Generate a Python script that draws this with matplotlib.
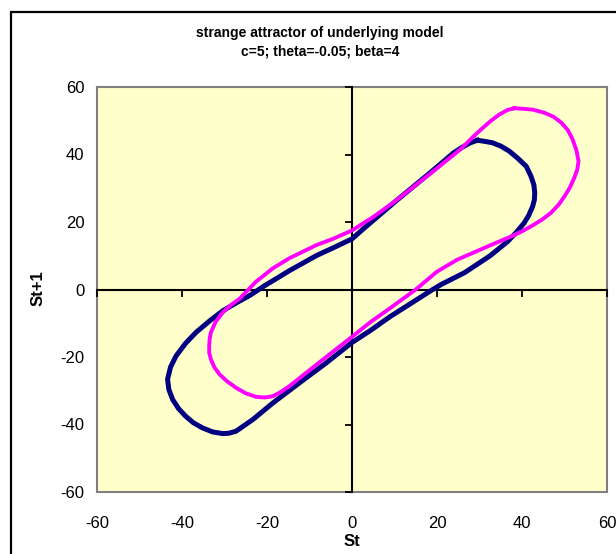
import numpy as np
import matplotlib.pyplot as plt

# attractor orbits, (St, St+1) pairs traced clockwise
navy_st = [29.5, 30.7, 33.0, 35.0, 37.0, 38.9, 41.0, 42.1, 42.8, 43.0, 42.9, 42.5, 41.6, 40.5, 38.7,
           36.6, 32.5, 26.5, 21.0, 19.0, 14.5, 9.0, 4.5, 0.0, -6.0, -12.3, -18.6, -23.3, -27.3,
           -29.0, -30.4, -32.8, -35.2, -37.3, -39.1, -40.8, -42.2, -43.1, -43.4, -42.7, -41.4,
           -39.2, -36.7, -33.5, -30.4, -27.0, -24.1, -20.6, -14.7, -8.3, -4.5, 0.0, 2.7, 10.6,
           18.4, 23.9, 26.0, 27.9]
navy_st1 = [44.2, 44.0, 43.5, 42.5, 41.0, 39.0, 36.5, 33.6, 31.0, 28.6, 26.5, 24.6, 22.0, 19.7, 17.0,
            14.2, 10.0, 5.0, 1.5, 0.0, -3.6, -8.0, -12.0, -15.7, -21.7, -27.6, -33.6, -38.5, -42.0,
            -42.6, -42.7, -42.2, -41.0, -39.5, -37.6, -35.3, -32.6, -29.6, -26.6, -23.0, -19.7,
            -16.0, -12.7, -9.3, -6.3, -3.8, -1.8, 1.1, 5.6, 10.1, 12.3, 15.0, 18.0, 26.5,
            34.6, 40.5, 42.2, 43.5]

pink_st = [38.2, 39.7, 42.5, 45.2, 47.4, 49.2, 50.8, 51.9, 52.8, 53.3, 53.0, 52.3, 51.3, 50.0, 48.6,
           46.8, 44.6, 42.1, 39.8, 37.4, 31.8, 24.7, 20.0, 15.0, 9.0, 4.5, 0.0, -8.3, -14.7, -16.8,
           -18.6, -20.5, -22.6, -25.1, -27.3, -29.4, -31.2, -32.4, -33.2, -33.6, -33.6, -33.5,
           -33.2, -32.1, -30.4, -28.6, -26.5, -22.6, -18.6, -14.7, -8.3, -4.5, 0.0, 5.0, 10.6,
           18.4, 25.5, 28.7, 30.7, 32.6, 34.6, 36.6]
pink_st1 = [53.7, 53.6, 53.3, 52.4, 51.2, 49.5, 47.2, 44.5, 41.3, 38.0, 35.5, 33.1, 30.3, 27.6, 25.1,
            22.7, 20.6, 18.7, 17.1, 15.7, 12.7, 8.8, 5.3, 0.0, -5.5, -9.5, -14.0, -22.2, -28.6, -30.4,
            -31.6, -32.0, -31.8, -30.7, -29.1, -27.2, -25.1, -23.0, -20.7, -18.7, -16.7, -14.7,
            -12.7, -9.6, -6.8, -4.7, -2.8, 2.3, 6.3, 9.3, 13.2, 15.0, 17.5, 21.5, 26.6,
            34.3, 41.5, 45.5, 47.8, 49.9, 51.8, 53.2]

ticks = [-60, -40, -20, 0, 20, 40, 60]

plt.rcParams['font.family'] = ['Liberation Sans', 'DejaVu Sans']
plt.rcParams['axes.unicode_minus'] = False

W, H = 616, 554
fig = plt.figure(figsize=(W / 100, H / 100), dpi=100)

# outer chart border (runs off the right and bottom edges)
fig.patches.append(plt.Rectangle((10.5 / W, -0.1), 1.2, 1 - 12 / H + 0.1, transform=fig.transFigure,
                                 fill=False, ec='black', lw=1.6))

pos = [97 / W, 1 - 492 / H, 510 / W, 405 / H]
ax = fig.add_axes(pos)
ax.set_facecolor('#FFFFCC')
for s in ax.spines.values():
    s.set_color('#808080')
    s.set_linewidth(1.5)
ax.set_xlim(-60, 60)
ax.set_ylim(-60, 60)
ax.set_xticks(ticks)
ax.set_yticks(ticks)
ax.tick_params(axis='both', length=0, labelsize=12)
ax.tick_params(axis='x', pad=17)
ax.tick_params(axis='y', pad=9)

# axes crossing at the origin, with outward tick marks
ax2 = fig.add_axes(pos, sharex=ax, sharey=ax)
ax2.patch.set_visible(False)
ax2.spines['left'].set_position('zero')
ax2.spines['bottom'].set_position('zero')
ax2.spines['top'].set_visible(False)
ax2.spines['right'].set_visible(False)
for s in ['left', 'bottom']:
    ax2.spines[s].set_linewidth(1.5)
ax2.tick_params(direction='out', length=5, width=1.3, labelleft=False, labelbottom=False)

ax2.plot(navy_st + navy_st[:1], navy_st1 + navy_st1[:1], color='#000080', lw=3.6, zorder=3,
         solid_joinstyle='round')
ax2.plot(pink_st + pink_st[:1], pink_st1 + pink_st1[:1], color='#FF00FF', lw=2.8, zorder=4,
         solid_joinstyle='round')

fig.text(320 / W, 1 - 33 / H, 'strange attractor of underlying model', ha='center', va='center',
         fontsize=10, fontweight='bold')
fig.text(320 / W, 1 - 51 / H, 'c=5; theta=-0.05; beta=4', ha='center', va='center',
         fontsize=10, fontweight='bold')
fig.text(352 / W, 1 - 542 / H, 'St', ha='center', va='center', fontsize=12, fontweight='bold')
fig.text(38 / W, 1 - 288 / H, 'St+1', ha='center', va='center', rotation=90, fontsize=12,
         fontweight='bold')

fig.savefig('out.png', dpi=100)
